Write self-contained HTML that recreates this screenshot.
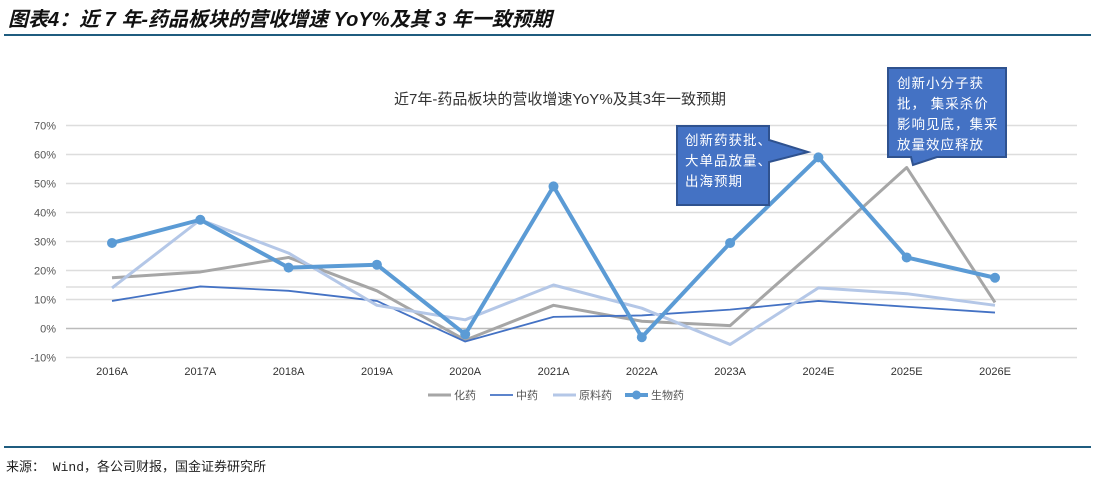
<!DOCTYPE html>
<html><head><meta charset="utf-8"><style>
body{margin:0;background:#fff;width:1095px;height:478px;overflow:hidden;position:relative;font-family:"Liberation Sans","Noto Sans CJK SC",sans-serif}
.t{position:absolute;white-space:nowrap}
</style></head><body>
<div class="t" style="left:8px;top:3px;font-size:20px;font-weight:bold;font-style:italic;color:#111">图表4：近 7 年-药品板块的营收增速 YoY%及其 3 年一致预期</div>
<div style="position:absolute;left:4px;top:34px;width:1087px;height:2px;background:#1F5C7F"></div>
<svg id="c" width="1095" height="440" style="position:absolute;left:0;top:0"></svg>
<div style="position:absolute;left:4px;top:446px;width:1087px;height:2px;background:#1F5C7F"></div>
<div class="t" style="left:6px;top:456px;font-size:13px;color:#222;font-family:'Liberation Mono','Noto Sans CJK SC',monospace">来源： Wind，各公司财报，国金证券研究所</div>
<script>
const categories=["2016A","2017A","2018A","2019A","2020A","2021A","2022A","2023A","2024E","2025E","2026E"];
const chem=[17.5,19.5,24.5,13,-4,8,2.5,1,28,55.5,9];
const tcm=[9.5,14.5,13,9.5,-4.5,4,4.5,6.5,9.5,7.5,5.5];
const api=[14,37.5,26,8,3,15,7,-5.5,14,12,8];
const bio=[29.5,37.5,21,22,-2,49,-3,29.5,59,24.5,17.5];
const yTicks=[70,60,50,40,30,20,10,0,-10];
const svg=document.getElementById('c');const NS='http://www.w3.org/2000/svg';
function y(v){return 328.5-v*2.9;}
function x(i){return 112+i*88.3;}
function mk(t,a){const e=document.createElementNS(NS,t);for(const k in a)e.setAttribute(k,a[k]);svg.appendChild(e);return e;}
let tt=mk('text',{x:560,y:104,'text-anchor':'middle','font-size':15,fill:'#333'});


tt.textContent='近7年-药品板块的营收增速YoY%及其3年一致预期';
yTicks.forEach(v=>{
 const l=mk('line',{x1:66,x2:1077,y1:y(v),y2:y(v),stroke:v==0?'#bbb':'#ddd','stroke-width':1.5});
 
 
 const t=mk('text',{x:56,y:y(v)+4,'text-anchor':'end','font-size':11,fill:'#555'});
 
 
 t.textContent=v+'%';
});
const extra=mk('line',{x1:66,x2:1077,y1:287,y2:287,stroke:'#ddd','stroke-width':1.5});


categories.forEach((c,i)=>{
 const t=mk('text',{x:x(i),y:375,'text-anchor':'middle','font-size':11,fill:'#333'});
 
 
 t.textContent=c;
});
function line(d,col,w,name){
 const p=mk('polyline',{points:d.map((v,i)=>x(i)+','+y(v)).join(' '),fill:'none',stroke:col,'stroke-width':w,'stroke-linejoin':'round'});
 
 
}
line(chem,'#A6A6A6',3,'series-chem');
line(tcm,'#4472C4',1.8,'series-tcm');
line(api,'#B4C7E7',3,'series-api');
line(bio,'#5B9BD5',4,'series-bio');
bio.forEach((v,i)=>{
 const c=mk('circle',{cx:x(i),cy:y(v),r:5,fill:'#5B9BD5'});
 
 
});
const leg=[['化药','#A6A6A6',428,3],['中药','#4472C4',490,1.8],['原料药','#B4C7E7',553,3],['生物药','#5B9BD5',625,4]];
leg.forEach(([n,c,lx,w])=>{
 const l=mk('line',{x1:lx,x2:lx+23,y1:395,y2:395,stroke:c,'stroke-width':w});
 
 
 if(n=='生物药'){const d=mk('circle',{cx:lx+11.5,cy:395,r:4.5,fill:c});}
 const t=mk('text',{x:lx+26,y:399,'font-size':11,fill:'#555'});
 
 
 t.textContent=n;
});
function callout(pts,lines,tx,ty,name){
 const p=mk('polygon',{points:pts,fill:'#4472C4',stroke:'#2F528F','stroke-width':2});
 
 
 lines.forEach((s,k)=>{
  const t=mk('text',{x:tx,y:ty+k*20.5,'font-size':13.5,fill:'#fff','letter-spacing':1});
  
  
  t.textContent=s;
 });
}
callout('677,126 769,126 769,140 808,152 769,162 769,205 677,205',['创新药获批、','大单品放量、','出海预期'],685,145,'callout-2024');
callout('888,68 1006,68 1006,157 937,157 913,165 911,157 888,157',['创新小分子获','批， 集采杀价','影响见底，集采','放量效应释放'],897,88,'callout-2025');
</script>
</body></html>
